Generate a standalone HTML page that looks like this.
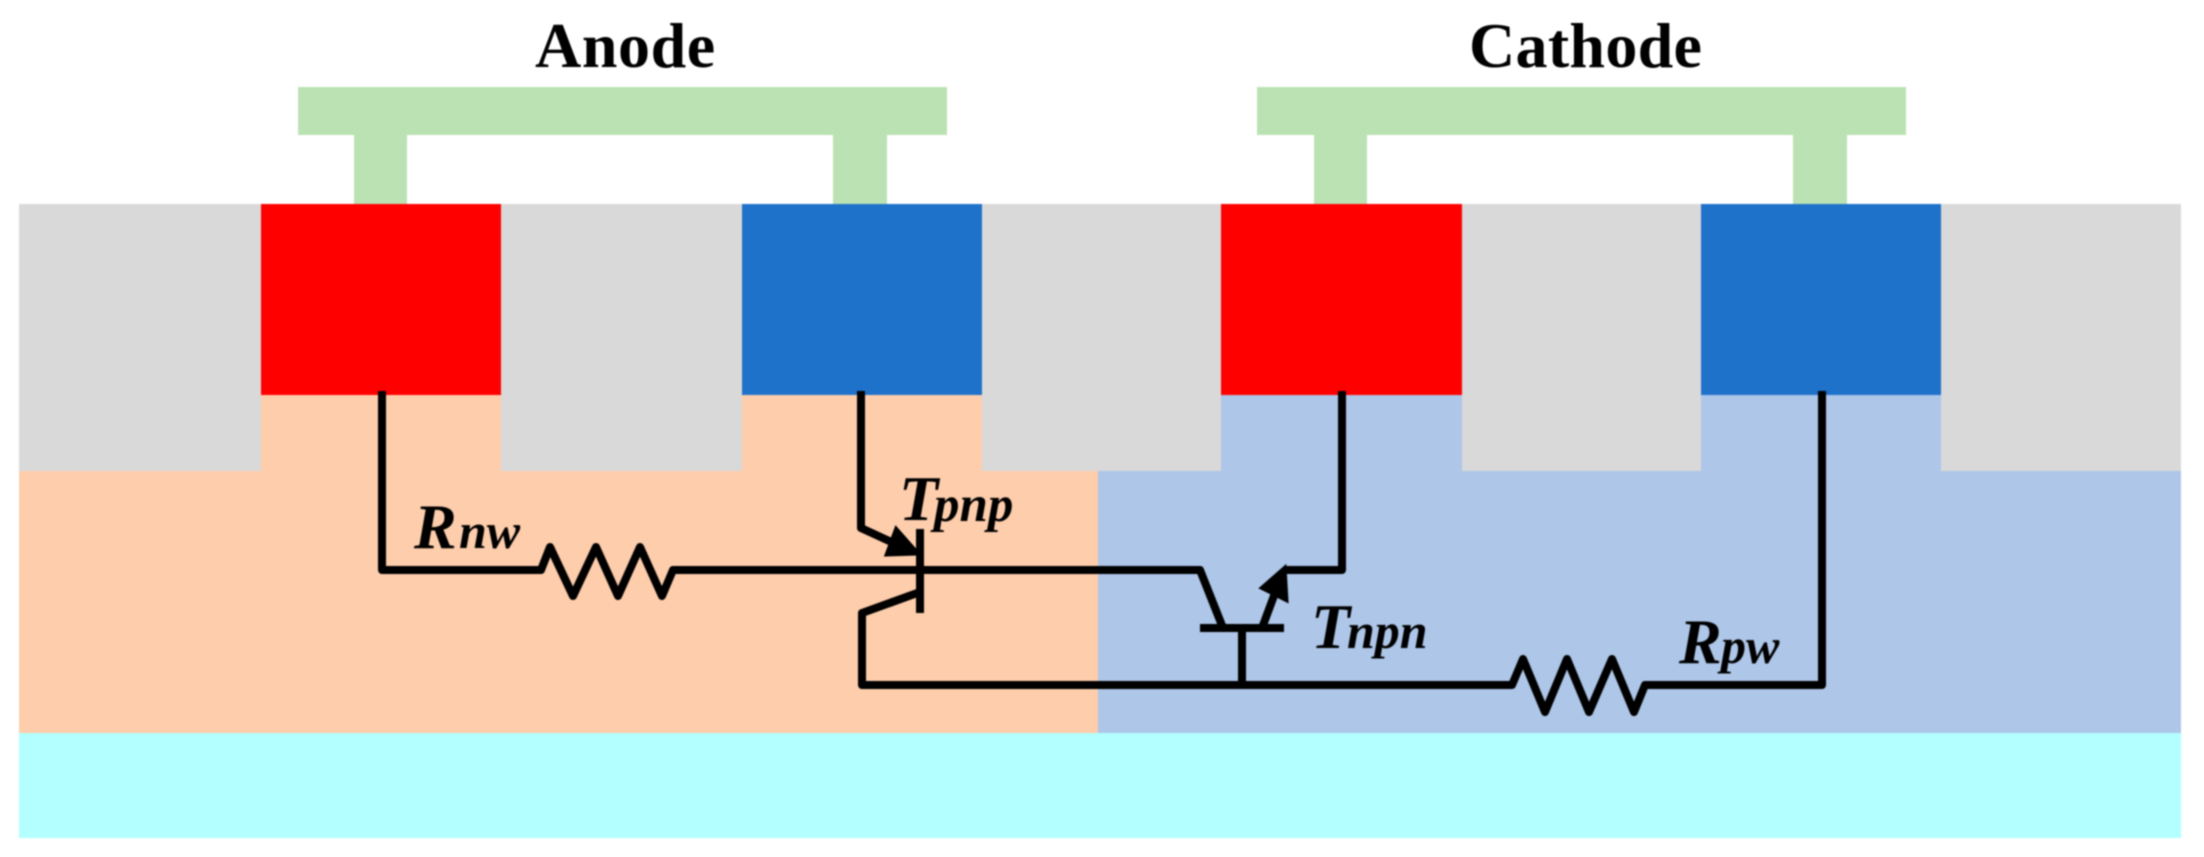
<!DOCTYPE html>
<html>
<head>
<meta charset="utf-8">
<style>
html,body{margin:0;padding:0;background:#fff;width:2204px;height:857px;overflow:hidden}
svg{display:block;filter:blur(0.9px)}
text{font-family:"Liberation Serif",serif;font-weight:bold;fill:#000}
</style>
</head>
<body>
<svg width="2204" height="857" viewBox="0 0 2204 857" xmlns="http://www.w3.org/2000/svg">
<rect width="2204" height="857" fill="#fff"/>
<!-- metal -->
<g fill="#bbe2b3">
<rect x="298" y="87" width="649" height="48"/>
<rect x="354" y="135" width="53" height="70"/>
<rect x="833" y="135" width="54" height="70"/>
<rect x="1257" y="87" width="649" height="48"/>
<rect x="1314" y="135" width="53" height="70"/>
<rect x="1793" y="135" width="54" height="70"/>
</g>
<!-- wells -->
<rect x="19" y="395" width="1079" height="338" fill="#fecdac"/>
<rect x="1098" y="395" width="1083" height="338" fill="#aec6e8"/>
<rect x="19" y="733" width="2162" height="105" fill="#b3ffff"/>
<!-- STI -->
<g fill="#d9d9d9">
<rect x="19" y="204" width="242" height="267"/>
<rect x="501" y="204" width="241" height="267"/>
<rect x="982" y="204" width="239" height="267"/>
<rect x="1462" y="204" width="239" height="267"/>
<rect x="1941" y="204" width="240" height="267"/>
</g>
<!-- diffusion -->
<rect x="261" y="204" width="240" height="191" fill="#ff0000"/>
<rect x="742" y="204" width="240" height="191" fill="#1f72ca"/>
<rect x="1221" y="204" width="241" height="191" fill="#ff0000"/>
<rect x="1701" y="204" width="240" height="191" fill="#1f72ca"/>
<!-- wires -->
<g fill="none" stroke="#000" stroke-width="8" stroke-linejoin="round">
<polyline points="382,391 382,570 541,570 550,547 573,596 596,547 618,596 640,547 662,596 673,570 1200,570 1223,628"/>
<polyline points="861,391 861,528 900,546"/>
<line x1="920" y1="529" x2="920" y2="613"/>
<polyline points="920,592 862,613 862,685 1512,685 1523,659 1545,712 1567,659 1589,712 1612,659 1634,712 1645,685 1822,685 1822,391"/>
<line x1="1200" y1="628" x2="1284" y2="628"/>
<line x1="1242" y1="628" x2="1242" y2="685"/>
<line x1="1262" y1="628" x2="1278" y2="585"/>
<polyline points="1284,570 1342,570 1342,391"/>
</g>
<polygon points="896,528 919,554 886,555" fill="#000" stroke="#000" stroke-width="3"/>
<polygon points="1285,567 1261,588 1287,601" fill="#000" stroke="#000" stroke-width="3"/>
<!-- labels -->
<text x="535" y="67" font-size="64" letter-spacing="0.6">Anode</text>
<text x="1469" y="67" font-size="64" letter-spacing="0.3">Cathode</text>
<g font-style="italic">
<text x="899" y="520" font-size="64" font-style="italic">T</text>
<text x="934" y="521" font-size="51" font-style="italic">pnp</text>
<text x="1311" y="648" font-size="64" font-style="italic">T</text>
<text x="1347" y="648" font-size="50" font-style="italic">npn</text>
<text x="414" y="548" font-size="64" font-style="italic">R</text>
<text x="459" y="548" font-size="50" font-style="italic">nw</text>
<text x="1679" y="663" font-size="64" font-style="italic">R</text>
<text x="1721" y="663" font-size="50" font-style="italic">pw</text>
</g>
</svg>
</body>
</html>
